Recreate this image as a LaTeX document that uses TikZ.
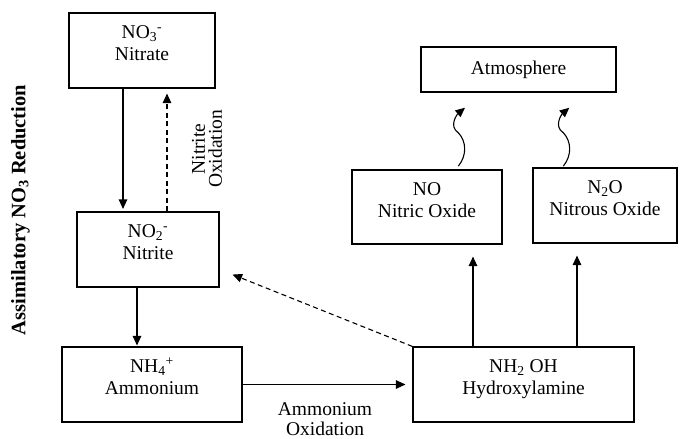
\documentclass[tikz,border=0pt]{standalone}
\usepackage{fontspec}
\setmainfont{Liberation Serif}
\usetikzlibrary{arrows.meta,calc}
\newcommand{\twoline}[2]{\raisebox{0pt}[0pt][0pt]{\begin{tabular}{@{}c@{}}#1\\#2\end{tabular}}}
\begin{document}
\begin{tikzpicture}[x=1pt, y=-1pt, line width=1.1pt,
  font=\fontsize{19.5}{22}\selectfont,
  box/.style={draw, inner sep=0pt},
  arr/.style={-{Triangle[length=9.5pt,width=8.5pt]}},
  dsh/.style={arr, dash pattern=on 5pt off 3.5pt}]
\useasboundingbox (0,0) rectangle (680,439);

% boxes
\node[box, minimum width=146pt, minimum height=75pt] (nitrate) at (142,50.5)
  {\twoline{NO\textsubscript{3}\textsuperscript{-}}{Nitrate}};
\node[box, minimum width=142pt, minimum height=75pt] (nitrite) at (148,249.5)
  {\twoline{NO\textsubscript{2}\textsuperscript{-}}{Nitrite}};
\node[box, minimum width=180pt, minimum height=75pt] (nh4) at (152,384.5)
  {\twoline{NH\textsubscript{4}\textsuperscript{+}}{Ammonium}};
\node[box, minimum width=221pt, minimum height=75pt] (nh2oh) at (523.5,384.5)
  {\twoline{NH\textsubscript{2} OH}{Hydroxylamine}};
\node[box, minimum width=150pt, minimum height=74pt] (no) at (427,207)
  {\twoline{NO}{Nitric Oxide}};
\node[box, minimum width=144pt, minimum height=75pt] (n2o) at (605,205.5)
  {\twoline{N\textsubscript{2}O}{Nitrous Oxide}};
\node[box, minimum width=195pt, minimum height=45pt] (atm) at (518.5,69.5)
  {Atmosphere};

% labels
\node[font=\fontsize{20.5}{24}\selectfont\bfseries, rotate=90, inner sep=0pt] (assim)
  at (20.4,210) {Assimilatory NO\textsubscript{3} Reduction};
\node[rotate=90, align=center, inner sep=0pt, font=\fontsize{19.5}{17}\selectfont] (nox)
  at (207,149) {Nitrite\\Oxidation};

% connectors
\coordinate (a1) at ([xshift=-19pt]nitrate.south);
\draw[arr, shorten >=2.5pt] (a1) -- (a1 |- nitrite.north);
\coordinate (a2) at ([xshift=19pt]nitrite.north);
\draw[dsh, shorten >=5pt] (a2) -- (a2 |- nitrate.south);
\coordinate (a3) at ([xshift=-11pt]nitrite.south);
\draw[arr, shorten >=1pt] (a3) -- (a3 |- nh4.north);
\draw[arr, shorten >=7pt] (nh4.east) -- (nh2oh.west)
  node[midway, anchor=north, xshift=-2.5pt, yshift=-18pt, inner sep=0pt, align=center,
       font=\fontsize{19.5}{20}\selectfont] (aox) {Ammonium\\Oxidation};
\coordinate (dtip) at ([xshift=13pt,yshift=13pt]nitrite.south east);
\draw[dsh] (nh2oh.north west) -- (dtip);
\coordinate (b1) at ([xshift=-50.5pt]nh2oh.north);
\draw[arr, shorten >=12pt] (b1) -- (b1 |- no.south);
\coordinate (b2) at ([xshift=53.5pt]nh2oh.north);
\draw[arr, shorten >=12pt] (b2) -- (b2 |- n2o.south);

% wavy emissions
\coordinate (w1) at ([xshift=31.3pt,yshift=3.3pt]no.north);
\coordinate (w1t) at ($(w1)+(6.7,-58.4)$);
\draw[arr] (w1) .. controls ($(w1)+(9,-11)$) and ($(w1)+(8,-25)$) .. ($(w1)+(0,-33.4)$)
  .. controls ($(w1)+(-10,-40)$) and ($(w1)+(-1,-52)$) .. (w1t);
\coordinate (w2) at ([xshift=-41.7pt,yshift=1.3pt]n2o.north);
\coordinate (w2t) at ($(w2)+(6,-58.4)$);
\draw[arr] (w2) .. controls ($(w2)+(9,-11)$) and ($(w2)+(8,-25)$) .. ($(w2)+(0,-33.4)$)
  .. controls ($(w2)+(-10,-40)$) and ($(w2)+(-1.5,-52)$) .. (w2t);
\end{tikzpicture}
\end{document}
